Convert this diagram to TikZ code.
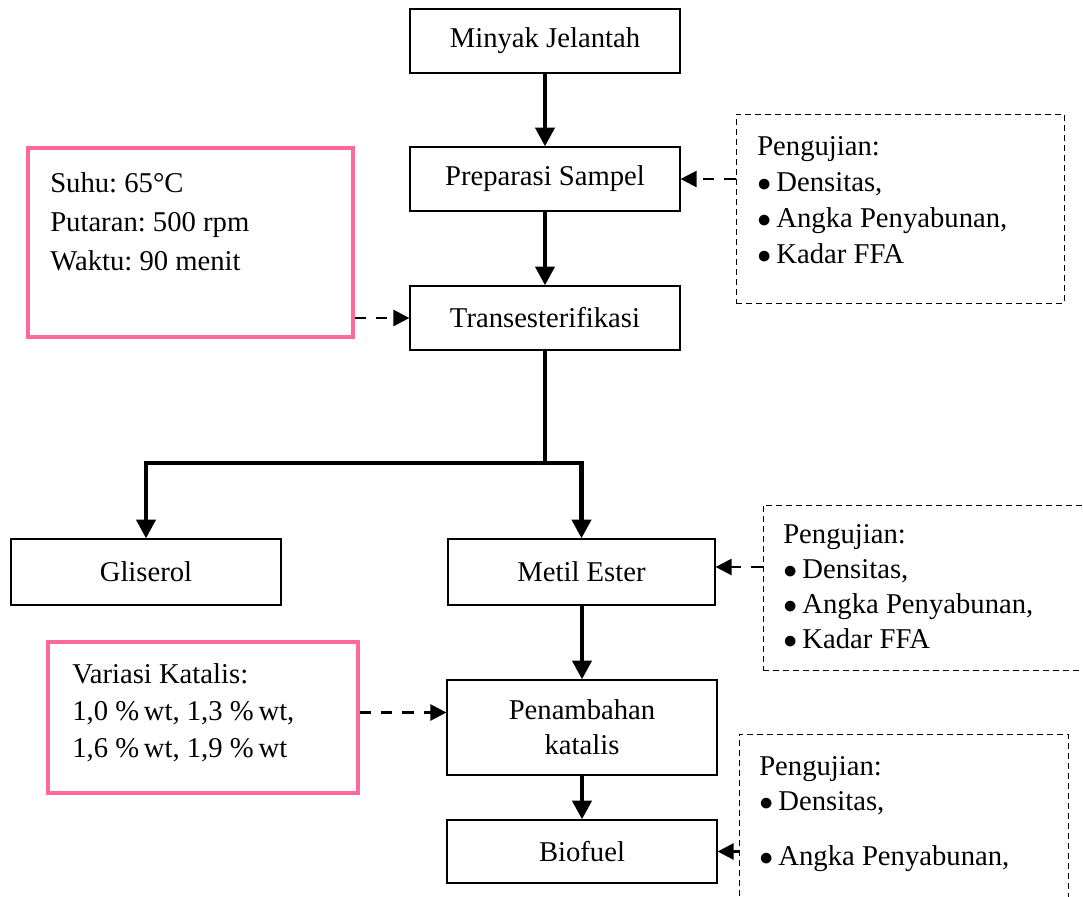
\documentclass[tikz,border=0pt]{standalone}
\usepackage{fontspec}
\setmainfont{Liberation Serif}
\usetikzlibrary{arrows.meta,calc}
\definecolor{pinkline}{RGB}{255,105,153}
\newcommand{\bul}{$\bullet$\hspace{4pt}}
\begin{document}
\frenchspacing
\begin{tikzpicture}[x=0.75pt,y=-0.75pt,
  proc/.style={draw=black, line width=0.9pt, inner sep=0pt, align=center,
    font=\fontsize{21.5}{26.25}\selectfont},
  pinkbox/.style={draw=pinkline, line width=2.6pt, inner sep=0pt},
  testbox/.style={draw=black, line width=0.75pt, dash pattern=on 4.5pt off 3pt, inner sep=0pt},
  flow/.style={line width=3.4pt, -{Triangle[width=14pt,length=14pt]}},
  aux/.style={line width=1.8pt, dash pattern=on 8.5pt off 7.5pt, -{Triangle[width=12pt,length=12pt]}},
  txt/.style={anchor=base west, inner sep=0pt}
]
\useasboundingbox (0,0) rectangle (1083,897);
\clip (0,0) rectangle (1083,897);

% process boxes
\node[proc, minimum width=202.5pt, minimum height=48pt] (mj) at (545,41) {Minyak Jelantah};
\node[proc, minimum width=202.5pt, minimum height=48pt] (ps) at (545,179) {Preparasi Sampel};
\node[proc, minimum width=202.5pt, minimum height=48pt] (tr) at (545,318) {Transesterifikasi};
\node[proc, minimum width=202.5pt, minimum height=49.5pt] (gl) at (146,572) {Gliserol};
\node[proc, minimum width=200.25pt, minimum height=49.5pt] (me) at (581.5,572) {Metil Ester};
\node[proc, minimum width=202.5pt, minimum height=71.25pt] (pk) at (582,727.5) {Penambahan\\katalis};
\node[proc, minimum width=202.5pt, minimum height=47.25pt] (bf) at (582,851.5) {Biofuel};

% condition boxes
\node[pinkbox, minimum width=243.75pt, minimum height=141.75pt] (c1) at (190.5,242.5) {};
\node[pinkbox, minimum width=232.5pt, minimum height=113.25pt] (c2) at (203,717.5) {};

% test boxes
\node[testbox, minimum width=246pt, minimum height=141.75pt] (d1) at (900,208.5) {};
\node[testbox, minimum width=245.25pt, minimum height=123.75pt] (d2) at (926.5,587.5) {};
\node[testbox, minimum width=246.75pt, minimum height=139.5pt] (d3) at (903.5,827) {};

% texts
\node[txt, font=\fontsize{21.5}{29.25}\selectfont] (c1t) at (50,192)
  {\begin{tabular}[t]{@{}l@{}}Suhu: 65°C\\Putaran: 500 rpm\\Waktu: 90 menit\end{tabular}};
\node[txt, font=\fontsize{21.5}{27.75}\selectfont] (c2t) at (72,683)
  {\begin{tabular}[t]{@{}l@{}}Variasi Katalis:\\1,0 \%\,wt, 1,3 \%\,wt,\\1,6 \%\,wt, 1,9 \%\,wt\end{tabular}};
\node[txt, font=\fontsize{21.5}{27}\selectfont] (d1t) at (757,155)
  {\begin{tabular}[t]{@{}l@{}}Pengujian:\\\bul Densitas,\\\bul Angka Penyabunan,\\\bul Kadar FFA\end{tabular}};
\node[txt, font=\fontsize{21.5}{26.25}\selectfont] (d2t) at (783,543)
  {\begin{tabular}[t]{@{}l@{}}Pengujian:\\\bul Densitas,\\\bul Angka Penyabunan,\\\bul Kadar FFA\end{tabular}};
\node[txt, font=\fontsize{21.5}{26.25}\selectfont] (d3t) at (759,775)
  {\begin{tabular}[t]{@{}l@{}}Pengujian:\\\bul Densitas,\\[15pt]\bul Angka Penyabunan,\end{tabular}};

% main flow
\draw[flow] (mj.south) -- (ps.north);
\draw[flow] (ps.south) -- (tr.north);
\coordinate (jl) at (146,463);
\coordinate (jr) at (me.north |- jl);
\draw[line width=3.4pt] (tr.south) -- (tr.south |- jl);
\draw[flow] (jr) -- (jl) -- (gl.north);
\draw[flow] (tr.south |- jl) -- (jr) -- (me.north);
\draw[flow] (me.south -| pk.north) -- (pk.north);
\draw[flow] (pk.south) -- (bf.north);

% auxiliary dashed arrows
\draw[aux] (tr.west -| c1.east) -- (tr.west);
\draw[aux] (ps.east -| d1.west) -- (ps.east);
\coordinate (mein) at ($(me.east)+(0,-5)$);
\draw[aux] (mein -| d2.west) -- (mein);
\coordinate (pkin) at ($(pk.west)+(0,-15)$);
\draw[aux] (pkin -| c2.east) -- (pkin);
\draw[aux] (bf.east -| d3.west) -- (bf.east);
\end{tikzpicture}
\end{document}
